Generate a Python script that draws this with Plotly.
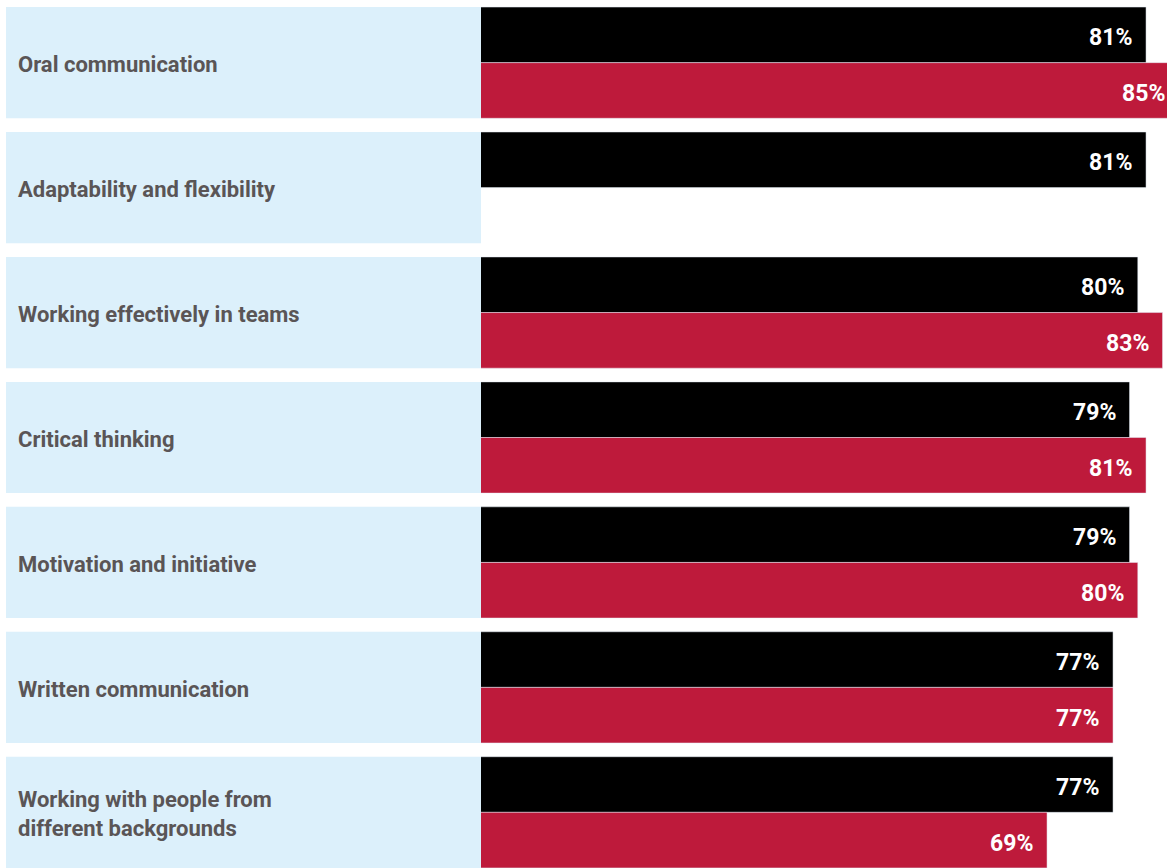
import plotly.graph_objects as go

categories = [
    "Oral communication",
    "Adaptability and flexibility",
    "Working effectively in teams",
    "Critical thinking",
    "Motivation and initiative",
    "Written communication",
    "Working with people from<br>different backgrounds",
]
series_black = [81, 81, 80, 79, 79, 77, 77]
series_red = [85, None, 83, 81, 80, 77, 69]

BLACK = "#000000"
RED = "#BE1A3B"
PANEL = "#DCF0FB"
LABEL_COLOR = "#5A5556"

W, H = 1167, 868
X_RANGE = [0.39, 83.54]
Y_RANGE = [6.4456, -0.5016]
BARGAP = 0.11

ypos = list(range(len(categories)))

fig = go.Figure()
fig.add_trace(go.Bar(y=ypos, x=series_black, orientation="h", marker_color=BLACK,
                     name="black", hoverinfo="skip"))
fig.add_trace(go.Bar(y=ypos, x=series_red, orientation="h", marker_color=RED,
                     name="red", hoverinfo="skip"))

shapes = []
annotations = []
for i, label in enumerate(categories):
    shapes.append(dict(type="rect", xref="paper", yref="y", x0=6 / W, x1=481 / W,
                       y0=i - 0.5 + BARGAP / 2, y1=i + 0.5 - BARGAP / 2,
                       fillcolor=PANEL, line_width=0, layer="below"))
    annotations.append(dict(xref="paper", yref="y", x=16 / W, y=i, text=label,
                            showarrow=False, xanchor="left", yanchor="middle", align="left",
                            yshift=-2,
                            font=dict(family="Roboto", size=22, color=LABEL_COLOR, weight="bold")))

# value labels: black bar is upper half of group, red is lower half
for offset, vals in ((-0.25 * (1 - BARGAP), series_black), (0.25 * (1 - BARGAP), series_red)):
    for i, v in enumerate(vals):
        if v is None:
            continue
        xv = min(v, X_RANGE[1])
        shift = -12 if v <= X_RANGE[1] else 0
        annotations.append(dict(xref="x", yref="y", x=xv, y=i + offset, text=f"{v}%",
                                showarrow=False, xanchor="right", yanchor="middle", xshift=shift,
                                yshift=-3,
                                font=dict(family="Roboto", size=23, color="white", weight="bold")))

fig.update_layout(
    width=W, height=H,
    margin=dict(l=0, r=0, t=0, b=0),
    barmode="group", bargap=BARGAP, bargroupgap=0,
    plot_bgcolor="white", paper_bgcolor="white",
    showlegend=False,
    xaxis=dict(domain=[481 / W, 1], range=X_RANGE, visible=False, fixedrange=True),
    yaxis=dict(range=Y_RANGE, visible=False, fixedrange=True),
    shapes=shapes, annotations=annotations,
)

fig.write_html("out.html", config={"displayModeBar": False},
               post_script="document.body.style.margin='0';document.body.style.overflow='hidden';")
